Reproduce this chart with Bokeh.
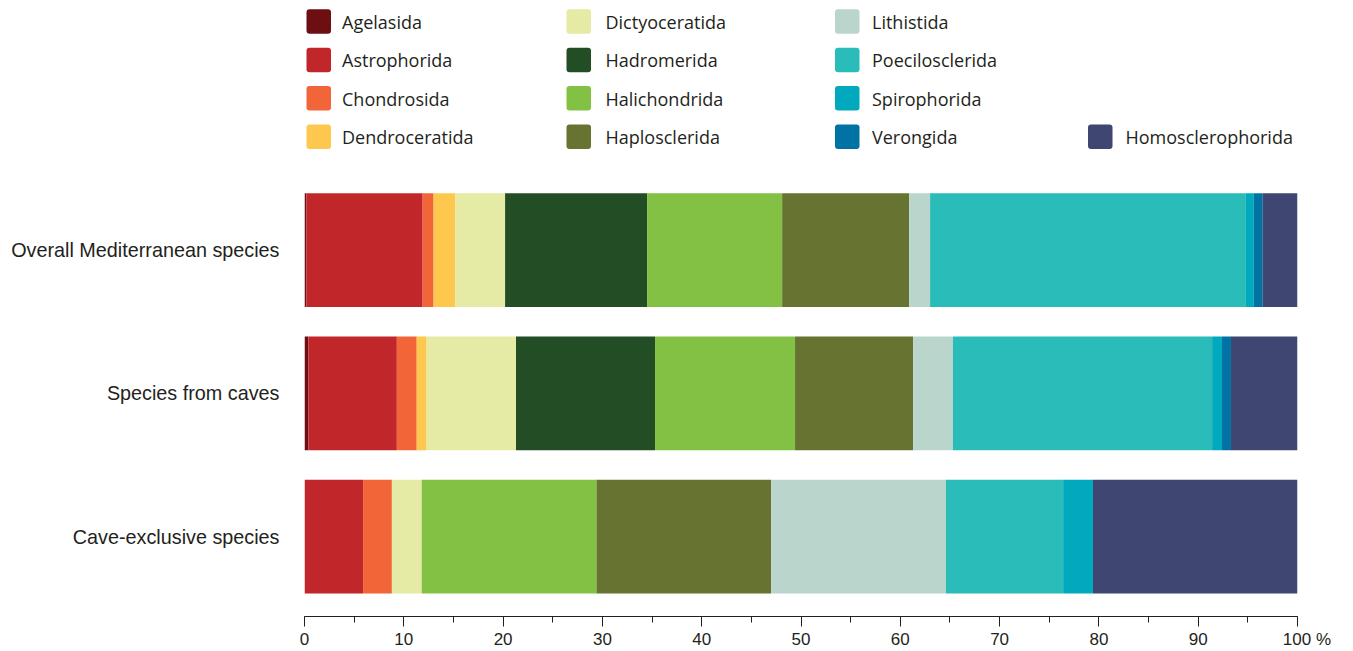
from bokeh.plotting import figure
from bokeh.models import ColumnDataSource, Range1d, SingleIntervalTicker, FixedTicker
from bokeh.core.properties import value
from bokeh.embed import file_html
from bokeh.resources import INLINE

# ---------------- data ----------------
groups = ["Overall Mediterranean species", "Species from caves", "Cave-exclusive species"]
orders = ["Agelasida", "Astrophorida", "Chondrosida", "Dendroceratida", "Dictyoceratida",
          "Hadromerida", "Halichondrida", "Haplosclerida", "Lithistida", "Poecilosclerida",
          "Spirophorida", "Verongida", "Homosclerophorida"]
colors = ["#6d0f12", "#c1272a", "#f26538", "#fec84f", "#e5eaa5", "#234d25", "#82c143",
          "#677330", "#bad5cc", "#29bcb9", "#00a9bd", "#0073a4", "#3f4672"]
overall = [0.2, 11.7, 1.1, 2.2, 5.0, 14.3, 13.6, 12.8, 2.1, 31.8, 0.8, 0.9, 3.5]
caves = [0.4, 8.9, 2.0, 1.0, 9.0, 14.0, 14.1, 11.9, 4.0, 26.1, 1.0, 0.9, 7.0]
exclusive = [0.0, 5.9, 2.9, 0.0, 3.0, 0.0, 17.6, 17.6, 17.6, 11.8, 3.0, 0.0, 20.6]
x_ticks_interval = 10
last_tick_label = "100 %"

# legend grid (column, row) for each order
legend_col = [0, 0, 0, 0, 1, 1, 1, 1, 2, 2, 2, 2, 3]
legend_row = [0, 1, 2, 3, 0, 1, 2, 3, 0, 1, 2, 3, 3]

# ---------------- layout constants ----------------
W, H = 1353, 651
FRAME_L, FRAME_R = 304, 1297
FRAME_TOP, FRAME_BOT = 0, 617
ROW_PX = 143.5
BAR_CENTER0 = 250.0
TEXT = "#231f20"

ystart = -((FRAME_BOT - (BAR_CENTER0 + 2 * ROW_PX)) / ROW_PX)
yend = 2 + (BAR_CENTER0 - FRAME_TOP) / ROW_PX

p = figure(width=W, height=H, output_backend="svg", toolbar_location=None,
           x_range=Range1d(0, 100), y_range=Range1d(ystart, yend),
           min_border_left=FRAME_L, min_border_right=W - FRAME_R,
           min_border_top=FRAME_TOP, min_border_bottom=H - FRAME_BOT)
p.outline_line_color = None
p.xgrid.visible = False
p.ygrid.visible = False
p.background_fill_color = "white"
p.border_fill_color = "white"

# pixel ranges for the legend block
p.extra_x_ranges = {"lx": Range1d(FRAME_L, FRAME_R)}
p.extra_y_ranges = {"ly": Range1d(-FRAME_BOT, -FRAME_TOP)}

# ---------------- bars ----------------
ypos = [2 - i for i in range(len(groups))]
data = {"y": ypos}
for k, name in enumerate(orders):
    data[name] = [overall[k], caves[k], exclusive[k]]
src = ColumnDataSource(data)
p.hbar_stack(orders, y="y", height=114 / ROW_PX, fill_color=colors, line_color=None,
             source=src)

# ---------------- axes ----------------
xa = p.xaxis[0]
xa.ticker = SingleIntervalTicker(interval=x_ticks_interval, num_minor_ticks=2)
xa.axis_line_color = TEXT
xa.axis_line_width = 1
xa.major_tick_line_color = TEXT
xa.minor_tick_line_color = TEXT
xa.major_tick_in = 0
xa.major_tick_out = 10
xa.minor_tick_in = 0
xa.minor_tick_out = 6
xa.major_label_standoff = 3
xa.major_label_text_font = "Liberation Sans"
xa.major_label_text_font_size = "17px"
xa.major_label_text_color = TEXT
xa.major_label_overrides = {100: "\u00a0\u00a0\u00a0\u00a0" + last_tick_label}

ya = p.yaxis[0]
ya.ticker = FixedTicker(ticks=ypos)
ya.major_label_overrides = {y: g for y, g in zip(ypos, groups)}
ya.axis_line_color = None
ya.major_tick_line_color = None
ya.minor_tick_line_color = None
ya.major_label_standoff = 19
ya.major_label_text_font = "Liberation Sans"
ya.major_label_text_font_size = "19.8px"
ya.major_label_text_color = TEXT

# ---------------- legend ----------------
sw_left = [306, 566, 834.5, 1087.5]
txt_left = [341.5, 605, 871.5, 1125]
row_c = [21.0, 59.5, 98.0, 136.5]
SW = 24.5
lsrc = ColumnDataSource(dict(
    left=[sw_left[c] for c in legend_col],
    right=[sw_left[c] + SW for c in legend_col],
    top=[-(row_c[r] - SW / 2) for r in legend_row],
    bottom=[-(row_c[r] + SW / 2) for r in legend_row],
    tx=[txt_left[c] for c in legend_col],
    ty=[-(row_c[r] + 0.5) for r in legend_row],
    name=orders, color=colors))
p.quad(left="left", right="right", top="top", bottom="bottom", fill_color="color",
       line_color=None, border_radius=3, source=lsrc, x_range_name="lx", y_range_name="ly")
p.text(x="tx", y="ty", text="name", source=lsrc, x_range_name="lx", y_range_name="ly",
       text_font=value("Open Sans"), text_font_size="18px", text_color=TEXT,
       text_baseline="middle", text_align="left")

open("out.html", "w").write(file_html(p, INLINE))
